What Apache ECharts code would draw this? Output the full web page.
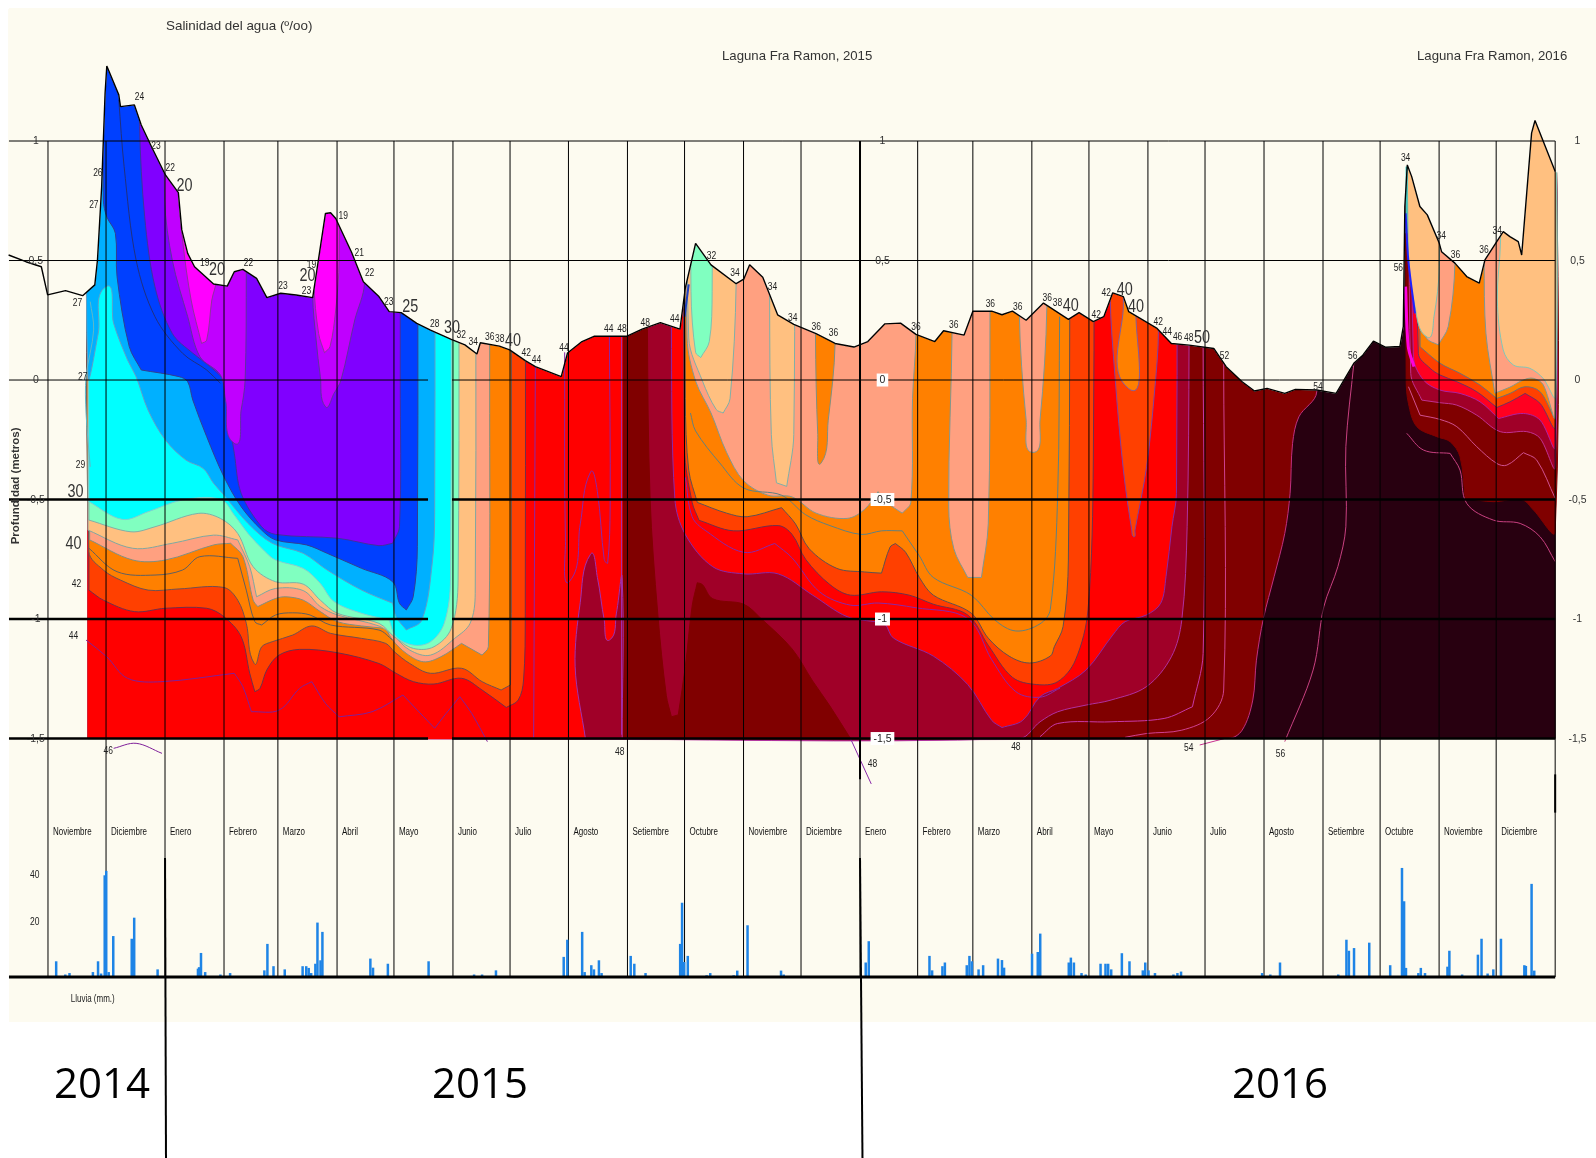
<!DOCTYPE html>
<html>
<head>
<meta charset="utf-8">
<title>Salinidad del agua</title>
<script src="https://cdn.jsdelivr.net/npm/echarts@6/dist/echarts.min.js"></script>
<style>
html,body{margin:0;padding:0;background:#fff}
#chart{width:1596px;height:1158px}
</style>
</head>
<body>
<div id="chart"></div>
<script>
// x = days since 1 Nov 2014, y = depth in metres

var months = ['Noviembre','Diciembre','Enero','Febrero','Marzo','Abril','Mayo','Junio','Julio','Agosto','Setiembre','Octubre','Noviembre','Diciembre','Enero','Febrero','Marzo','Abril','Mayo','Junio','Julio','Agosto','Setiembre','Octubre','Noviembre','Diciembre'];
var monthStarts = [0,30.5,61.5,92.5,120.8,151.9,181.8,212.8,242.8,273.5,304.5,334.5,365.5,395.7,426.7,457,486,517,547,578,608,639,670,700,731,761,792];
var depthTicks = [1,0.5,0,-0.5,-1,-1.5];
var depthTickLabels = ['1','0,5','0','-0,5','-1','-1,5'];

// water level
var surface = [[-20.7,.523],[-11.6,.495],[-3.5,.474],[-.2,.356],[9.2,.374],[18.2,.353],[24.6,.398],[26,.502],[28.2,.809],[30,1.2],[30.9,1.314],[37.2,1.193],[38.1,1.144],[45.4,1.151],[49,1.067],[54.4,.976],[61.7,.858],[68.5,.784],[70.3,.628],[73.4,.53],[77,.474],[87,.402],[94.2,.393],[97.9,.453],[102.4,.463],[109.6,.425],[115,.345],[122.3,.363],[130.4,.356],[139.1,.345],[145.8,.697],[148.5,.7],[151.2,.676],[159.4,.537],[165.7,.411],[173.9,.349],[179.3,.286],[185.6,.282],[193.8,.237],[201,.209],[211.9,.17],[219.1,.147],[225.4,.109],[227.2,.156],[237.2,.142],[242.6,.126],[250.8,.081],[256.1,.056],[269.7,.014],[273,.113],[280.6,.161],[286.9,.183],[304,.183],[312.2,.213],[321.8,.24],[332.1,.213],[334.9,.385],[340.3,.572],[348.4,.482],[361.6,.403],[365.6,.422],[368.7,.482],[375.6,.43],[383.4,.273],[391.9,.233],[403.6,.194],[413.6,.153],[423.5,.138],[430.8,.161],[439.8,.235],[448,.238],[456.1,.191],[466,.161],[470.6,.206],[481.4,.188],[486,.288],[495.9,.288],[501.3,.273],[506.8,.288],[514,.25],[523.1,.322],[536.2,.254],[541.8,.282],[549.3,.244],[554.8,.265],[559.5,.365],[565.1,.349],[567.9,.286],[582.8,.216],[590.3,.153],[599.6,.146],[612.6,.132],[619.1,.056],[627.5,-.007],[634,-.046],[640.6,-.035],[649.9,-.056],[655.5,-.039],[666.7,-.042],[676.9,-.056],[686.2,.07],[690.9,.104],[696.5,.163],[703,.137],[710.4,.14],[712.2,.224],[713,.726],[714.3,.9],[716.6,.851],[720.9,.726],[724.8,.691],[731.1,.572],[732.3,.537],[739.3,.489],[745.5,.433],[752.1,.405],[755.1,.503],[764.7,.621],[768.2,.6],[772.6,.579],[774.4,.523],[779.6,1.033],[781.4,1.086],[792,.872]];

// filled contour bands, painted in this order
var bandBase = [[21,-1.5],[792,-1.5],[792,1.5],[21,1.5]];
var bandDarkRed = [[21,-1.5],[620.1,-1.5],[627.5,-1.465],[633.1,-1.339],[635,-1.172],[638.7,-.997],[644.3,-.823],[649.9,-.642],[652.7,-.474],[654,-.265],[657.3,-.154],[666.7,-.049],[666.7,1.5],[21,1.5]];
var pocketDarkRed = [[713.7,1.5],[713.7,0],[714.9,-.098],[719.3,-.195],[729.8,-.237],[736.8,-.258],[742,-.321],[744.7,-.495],[759.5,-.509],[774.4,-.5],[780.6,-.544],[792,-.635],[792,1.5]];
var bandCrimson = [[250,-1.5],[510.4,-1.5],[521.3,-1.43],[530.6,-1.388],[545.5,-1.36],[558.6,-1.339],[577.2,-1.283],[590.3,-1.158],[595.8,-1.004],[598.6,-.614],[599.6,.153],[599.6,1.5],[250,1.5]];
var columnDarkRed = [[301.7,-1.5],[302.3,.176],[302.3,1.5],[315,1.5],[315,.221],[316.4,-.497],[320.4,-.975],[324.9,-1.319],[327.6,-1.409],[331.2,-1.401],[334.9,-1.199],[338.5,-.945],[341.2,-.848],[343.9,-.856],[349.3,-.915],[365.6,-.938],[374.7,-.998],[391,-1.125],[401.8,-1.259],[410.9,-1.364],[421.7,-1.5]];
var redLeft = [[21,-1.5],[301.7,-1.5],[301.7,1.5],[21,1.5]];
var hillCrimson = [[282.4,-1.5],[277,-1.2],[279.7,-.93],[285.1,-.729],[288.7,-.826],[292.3,-1.005],[295,-1.088],[298.7,-.975],[301.7,-.826],[301.7,-1.5]];
var redRight = [[327.6,1.5],[327.6,.221],[329.4,-.497],[334.9,-.646],[349.3,-.781],[365.6,-.811],[383.7,-.811],[401.8,-.9],[419.9,-.99],[436.2,-1.013],[439.8,-1.02],[444.3,-1.08],[465.2,-1.155],[483.3,-1.274],[495.9,-1.424],[501.3,-1.454],[512.2,-1.424],[521.3,-1.325],[530.6,-1.29],[545.5,-1.213],[559.5,-1.067],[566,-1.011],[577.2,-.983],[584.7,-.934],[587.5,-.823],[590.6,-.614],[593,-.474],[593,1.5]];
var redOrangeLeft = [[21,1.5],[21.5,-.879],[29.1,-.921],[45.4,-.969],[61.7,-.955],[83.4,-.955],[92.4,-.99],[101.5,-1.074],[106,-1.227],[108.7,-1.304],[111.4,-1.29],[115,-1.213],[121.4,-1.151],[132.2,-1.127],[152.1,-1.141],[173.9,-1.186],[182.9,-1.227],[192,-1.262],[202.8,-1.272],[217.3,-1.248],[228.1,-1.297],[240.8,-1.37],[247.1,-1.339],[249.9,-1.255],[250.8,-.976],[250.8,1.5]];
var orangeLeft = [[21,1.5],[21.5,-.718],[29.1,-.795],[38.1,-.837],[52.6,-.879],[68.9,-.874],[92.4,-.868],[99.7,-.921],[104.2,-1.018],[108.4,-1.186],[112.3,-1.116],[117.8,-1.095],[128.6,-1.067],[138.6,-1.029],[148.5,-1.06],[164.8,-1.081],[177.5,-1.102],[182,-1.137],[190.1,-1.186],[201,-1.227],[217.3,-1.206],[228.1,-1.262],[238.1,-1.297],[243,-1.276],[243.5,-.976],[243.5,1.5]];
var salmonLeft = [[21,1.5],[21.9,-.669],[44.5,-.753],[61.7,-.753],[87,-.69],[96,-.683],[102.4,-.739],[107.8,-.921],[110.2,-.948],[119.6,-.914],[125,-.907],[134.1,-.921],[143.1,-.969],[152.1,-1.011],[164.8,-1.029],[177.5,-1.039],[181.1,-1.088],[188.3,-1.144],[197.4,-1.179],[206.4,-1.158],[217.3,-1.102],[228.1,-1.151],[231.4,-1.116],[232.1,0],[232.1,1.5]];
var peachLeft = [[21,1.5],[21,-.628],[44.5,-.704],[65.3,-.683],[87,-.649],[99.7,-.669],[106,-.781],[109.6,-.907],[119.6,-.872],[134.1,-.881],[143.1,-.948],[152.1,-.983],[173.9,-1.029],[181.1,-1.067],[190.1,-1.13],[201,-1.151],[213.7,-1.081],[221.8,-1.018],[224.5,-.893],[224.5,1.5]];
var aquaLeft = [[21,1.5],[21.5,-.586],[43.6,-.635],[56.2,-.614],[78.9,-.558],[90.6,-.579],[99.7,-.642],[107.8,-.781],[119.6,-.844],[134.1,-.854],[143.1,-.921],[152.1,-.976],[173.9,-1.018],[182,-1.074],[192,-1.123],[202.8,-1.116],[211.9,-1.039],[215.5,-.837],[215.5,1.5]];
var cyanLeft = [[21,1.5],[21.5,-.509],[39,-.583],[52.6,-.551],[70.7,-.502],[90.6,-.499],[97.9,-.565],[105.1,-.642],[114.1,-.718],[119.6,-.753],[134.1,-.788],[143.1,-.851],[150.3,-.927],[164.8,-.976],[179.3,-1.004],[182.9,-1.074],[192,-1.109],[201,-1.095],[208.2,-1.018],[211.5,-.837],[211.5,1.5]];
var skyBlue = [[21,1.5],[21,.014],[26.4,.195],[30.4,.39],[34.5,.237],[41.8,.084],[46.3,.014],[52.6,-.126],[61.7,-.251],[72.5,-.335],[81.6,-.37],[87,-.432],[92.4,-.481],[105.1,-.6],[117.8,-.683],[134.1,-.725],[146.7,-.795],[164.8,-.879],[181.1,-.934],[182.9,-.99],[188.3,-1.046],[196.5,-1.004],[201.9,-.767],[203.2,-.558],[203.2,1.5]];
var blue = [[29,1.5],[29.1,.753],[30.9,.683],[35.4,.614],[36.3,.432],[42.7,.14],[49,.042],[68.9,.014],[73.4,-.007],[76.1,-.084],[83.4,-.237],[92.4,-.404],[101.5,-.53],[112.3,-.628],[119.6,-.669],[135.9,-.69],[146.7,-.725],[164.8,-.788],[181.1,-.844],[184.7,-.934],[188.3,-.962],[191.9,-.907],[194.1,-.697],[194.1,1.5]];
var violet = [[48,1.5],[48.1,1.06],[50.8,.683],[56.2,.39],[65.3,.195],[76.1,.112],[85.2,.056],[92.4,-.007],[95.1,-.167],[97.9,-.307],[101.5,-.474],[112.3,-.614],[119.6,-.646],[152.1,-.662],[173.9,-.693],[181.1,-.683],[184.7,-.614],[185.1,0],[185.1,1.5]];
var purpleJan = [[61.3,1.5],[61.3,.753],[65.3,.502],[73.4,.265],[79.8,.098],[90.6,.021],[93.3,-.084],[97.9,-.265],[101.5,-.126],[103.6,0],[104.2,.46],[104.2,1.5]];
var magentaJan = [[68.5,1.5],[68.5,.809],[70.7,.586],[75.2,.335],[80.7,.153],[83.4,.167],[86.1,.335],[88.4,.418],[88.4,1.5]];
var purpleApr = [[139.1,1.5],[139.1,.349],[140.9,.167],[143.1,.014],[145.8,-.112],[150.3,-.056],[154,0],[161.2,.251],[166.3,.405],[166.3,1.5]];
var magentaApr = [[139.8,1.5],[139.8,.405],[142.2,.195],[145.3,.114],[148.2,.14],[151.2,.293],[153,.502],[153,1.5]];

var redOrangeMid = [[334.5,1.5],[334.5,-.288],[338.5,-.512],[342.1,-.587],[360.2,-.631],[383.7,-.609],[391,-.646],[398.2,-.751],[410.9,-.856],[421.7,-.9],[438,-.886],[452.5,-.9],[465.2,-.938],[483.3,-.983],[494.1,-1.11],[506.8,-1.244],[519.4,-1.274],[530.6,-1.262],[539.9,-1.172],[546.5,-.962],[549.3,-.335],[549.6,1.5]];
var orangeMid = [[334.9,1.5],[334.9,-.078],[336.7,-.377],[341.2,-.512],[356.6,-.557],[367.4,-.572],[385.5,-.534],[392.8,-.602],[400,-.706],[414.5,-.788],[429,-.803],[438,-.808],[442.5,-.699],[445.3,-.684],[450.7,-.721],[457.9,-.826],[465.2,-.9],[485.1,-.975],[494.1,-1.08],[505,-1.155],[515.8,-1.184],[526.7,-1.155],[528.8,-1.116],[533.4,-1.032],[536.2,-.753],[537.1,1.5]];
var salmonMid = [[334.9,1.5],[335.8,.176],[340.3,-.004],[348.4,-.138],[356.6,-.303],[365.6,-.422],[378.3,-.482],[391,-.489],[403.6,-.557],[419.9,-.579],[429,-.542],[436.2,-.467],[440.7,-.512],[448.9,-.557],[453.4,-.512],[454.3,-.078],[456.1,.191],[456.1,1.5]];
var salmonFeb = [[475.1,1.5],[475.1,.213],[473.3,-.527],[476,-.706],[483.3,-.826],[490.5,-.826],[494.1,-.602],[495,.288],[495,1.5]];
var salmonApr = [[510.4,1.5],[510.4,.28],[514,-.168],[517.6,-.303],[521.3,-.168],[524.9,.31],[524.9,1.5]];
var orangeDec = [[403.3,1.5],[403.3,.191],[404.5,-.228],[406.3,-.347],[410,-.168],[413.6,.153],[413.6,1.5]];
var peachOct = [[336.7,1.5],[336.7,.176],[343.9,-.004],[351.1,-.123],[354.8,-.138],[358.4,-.078],[361.6,.403],[361.6,1.5]];
var aquaOct = [[337.9,1.5],[337.9,.37],[340.3,.116],[343,.094],[347.5,.161],[349,.37],[349,1.5]];
var peachNov = [[379.2,1.5],[379.2,.355],[380.1,-.228],[382.8,-.43],[388.2,-.445],[391.9,-.228],[391.9,1.5]];
var redOrangeMay = [[558.1,1.5],[558.1,.362],[560.7,.014],[565.1,-.377],[569.5,-.628],[570.7,-.656],[571.2,-.628],[577.3,-.363],[581.7,-.028],[583.5,.195],[583.5,1.5]];
var orangeMay = [[565.1,1.5],[565.1,.32],[567.7,-.035],[571.7,.279],[571.7,1.5]];

var pocketCrimson = [[716,1.5],[716.1,.028],[721.9,-.084],[731.5,-.095],[740.3,-.105],[750.8,-.147],[763.1,-.216],[777.1,-.216],[784.1,-.244],[792,-.363],[792,1.5]];
var pocketRed = [[717,1.5],[717.5,.097],[722.8,0],[731.5,-.042],[742,-.056],[752.5,-.091],[762.2,-.161],[775.3,-.14],[784.1,-.168],[792,-.279],[792,1.5]];
var pocketRedOrange = [[719.5,1.5],[720.1,.111],[726.3,.049],[731.5,.021],[740.3,-.007],[750.8,-.049],[761.3,-.115],[768.3,-.091],[776.2,-.056],[784.1,-.098],[792,-.195],[792,1.5]];
var pocketOrange = [[720.5,1.5],[721,.139],[731.5,.07],[742,.028],[752.5,-.021],[761.3,-.077],[768.3,-.056],[776.2,-.028],[784.1,-.049],[792,-.147],[792,1.5]];
var pocketSalmonA = [[714.8,1.5],[714.8,.614],[718.3,.307],[724.4,.175],[730.6,.147],[735.8,.224],[739.3,.489],[739.3,1.5]];
var pocketPeachA = [[714.8,1.5],[714.8,.544],[718.3,.307],[724.8,.179],[728.3,.265],[731.1,.475],[731.1,1.5]];
var pocketSalmonB = [[754.7,1.5],[754.7,.503],[755.6,.196],[760.3,-.055],[768.2,-.03],[775.2,0],[780.5,.007],[785.7,-.02],[792,-.153],[792,1.5]];
var pocketPeachB = [[763.3,1.5],[763.3,.586],[761.6,.335],[764.7,.126],[770,.063],[778.7,.049],[785.7,.007],[792,-.069],[792,1.5]];

// contour lines that do not bound a fill
var lineBlue = [[37.2,1.172],[40,.893],[46.3,.502],[56.2,.265],[70.7,.112],[83.4,.042],[90.6,-.014]];
var lineLeft = [[22.2,.328],[24,.209],[20,.014],[20,-.139],[22.2,-.363]];
var lineOrangeLeft = [[21.5,-.704],[36.3,-.802],[56.2,-.816],[70.7,-.795],[79.8,-.739],[99.7,-.746],[104.2,-.879],[108.7,-1.011],[112.3,-1.025],[119.6,-.983],[128.6,-.974],[137.7,-.983],[148.5,-1.025],[173.9,-1.046],[181.1,-1.088]];
var line44 = [[20,-1.088],[30.9,-1.158],[41.8,-1.248],[59.9,-1.262],[97.9,-1.227],[102.4,-1.283],[106.9,-1.388],[121.4,-1.381],[132.2,-1.29],[138.6,-1.262],[145.8,-1.353],[153,-1.409],[170.2,-1.388],[186.5,-1.318],[197.4,-1.409],[203.2,-1.457],[209.2,-1.395],[216.4,-1.325],[222.7,-1.395],[230.9,-1.513]];
var line46 = [[34.5,-1.541],[46.3,-1.52],[59.9,-1.562]];
var lineJul = [[256.1,.056],[255.2,-1.5]];
var lineAug = [[271.5,.116],[271.9,-.676],[274.2,-.841],[279.7,-.602],[285.1,-.385],[288.7,-.467],[292.3,-.751],[294.1,-.766],[295.4,-.527],[295,.183]];
var lineSep = [[301.4,.183],[301.4,-1.484]];
var lineOrangeMid = [[337.6,-.138],[340.3,-.213],[353,-.347],[365.6,-.452],[385.5,-.482],[398.2,-.564],[410.9,-.609],[427.2,-.646],[438,-.631],[448.9,-.631],[457.9,-.736],[465.2,-.826],[485.1,-.9],[497.7,-1.005],[508.6,-1.05],[521.3,-1.02],[526.7,-.96],[530.6,-.474],[531.6,.265]];
var lineRedMid = [[334.9,-.407],[338.5,-.572],[345.7,-.631],[365.6,-.721],[381.9,-.684],[391,-.744],[405.4,-.886],[421.7,-.942],[436.2,-.933],[456.1,-.953],[483.3,-.998],[495.9,-1.17],[508.6,-1.304],[521.3,-1.327],[531.8,-1.289]];
var line48Tail = [[421.7,-1.5],[432.6,-1.69]];
var line50 = [[607,.139],[607,-1.144],[601.4,-1.367],[586.5,-1.416],[558.6,-1.43],[530.6,-1.437],[521.3,-1.492]];
var line52 = [[617.8,.07],[617.8,-1.297],[610.8,-1.409],[595.8,-1.465],[577.2,-1.479],[566,-1.495]];
var line54Tail = [[605.2,-1.527],[618.2,-1.5]];
var line56 = [[686.2,.07],[682,-.279],[682,-.614],[677.8,-.781],[670.4,-.949],[664.8,-1.213],[649.9,-1.513]];
var linePocketOuter = [[714,-.223],[722.8,-.293],[736.8,-.307],[742,-.377],[745.5,-.516],[759.5,-.586],[773.6,-.6],[784.1,-.656],[792,-.76]];
var linePocketInner = [[714.9,-.028],[721,-.147],[731.5,-.165],[740.3,-.195],[750.8,-.279],[761.3,-.349],[766.6,-.356],[775.3,-.304],[782.3,-.335],[792,-.495]];
var streakTeal = [[713.9,.893],[713.9,.614]];
var streakBlue = [[713.4,.698],[714.8,.503],[718.3,.279]];
var streakMagenta = [[713.4,.391],[714.8,.14],[717.8,.056]];
var streakOct = [[334.5,.265],[336.7,.4]];

// contour labels: day, depth, text
var contourLabels = [[48.1,1.185,'24'],[56.7,.98,'23'],[64.2,.887,'22'],[26.2,.865,'26'],[24.1,.733,'27'],[15.5,.32,'27'],[82.4,.49,'19'],[105.3,.49,'22'],[123.5,.392,'23'],[135.8,.371,'23'],[138.5,.482,'19'],[155.1,.686,'19'],[163.6,.529,'21'],[169,.448,'22'],[179.1,.324,'23'],[203.2,.234,'28'],[217.1,.188,'32'],[223.5,.158,'34'],[232.1,.179,'36'],[237.4,.171,'38'],[251.3,.111,'42'],[256.7,.081,'44'],[271.1,.132,'44'],[294.7,.213,'44'],[301.6,.213,'48'],[313.9,.239,'48'],[329.4,.256,'44'],[348.7,.516,'32'],[361,.448,'34'],[380.7,.388,'34'],[391.4,.26,'34'],[403.7,.222,'36'],[412.8,.196,'36'],[456.1,.222,'36'],[475.9,.23,'36'],[495.2,.315,'36'],[509.6,.303,'36'],[525.1,.341,'36'],[530.5,.32,'38'],[550.8,.269,'42'],[556.1,.362,'42'],[583.4,.243,'42'],[588.2,.2,'44'],[593.6,.179,'46'],[599.5,.175,'48'],[618.2,.098,'52'],[667.4,-.03,'54'],[685.6,.098,'56'],[709.6,.469,'56'],[713.4,.929,'34'],[732.1,.601,'34'],[739.6,.524,'36'],[754.6,.541,'36'],[761.5,.622,'34'],[18.2,.013,'27'],[17.1,-.358,'29'],[15,-.853,'42'],[13.4,-1.074,'44'],[31.6,-1.552,'46'],[300.5,-1.556,'48'],[433.2,-1.607,'48'],[508.6,-1.535,'48'],[599.5,-1.539,'54'],[647.6,-1.564,'56']];
var bigLabels = [[71.7,.81,'20'],[88.8,.46,'20'],[136.4,.435,'20'],[190.4,.307,'25'],[212.3,.217,'30'],[244.4,.162,'40'],[537.4,.311,'40'],[565.8,.375,'40'],[571.7,.307,'40'],[606.4,.175,'50'],[14.4,-.469,'30'],[13.4,-.686,'40']];

// rain: day, mm
var rainDays = [4.3,9.1,11.3,23.6,26.3,27.9,29.8,30.6,31.9,34.3,44,45.3,57.6,78.8,79.4,80.4,82.6,90.6,95.7,113.7,115.3,118.5,124.4,133.8,135.7,137,138.3,140.5,141.6,143.2,144.2,169.4,170.8,178.6,200,223.9,228.1,235.4,271,272.9,280.7,282,285.5,286.9,289.5,290.9,306.2,308.1,314,332.2,333.2,334.3,336.2,346.1,348,360.3,362.2,367.6,385.2,386.6,402.4,429.7,431.3,443.9,463.2,464.6,470,471.3,482.8,484.2,485.5,489,491.4,499.2,501.3,502.4,517.1,520.1,521.4,536.4,537.5,539.1,543.1,545.3,553.1,555.7,557.1,558.7,564.3,568.3,575.3,576.6,578.3,581.7,591.4,593.5,595.4,628.4,638,642.3,647.4,655.2,678,682.3,683.6,686.3,694.3,705.3,711.5,712.6,713.6,720.1,721.4,723.6,735.4,736.4,743.1,751.4,753.3,756.5,759.5,763.5,775.8,776.6,779.6,781];
var rainMm = [6.4,1,1.6,2,6.4,1.4,41.5,43.3,2,16.7,15.6,24.2,3.1,3.4,4,9.8,2,1,1.6,2.7,13.5,4.4,3.1,4.4,4.4,3.7,1.6,5.4,22.2,6.8,18.4,7.5,3.8,5.4,6.4,1,1,2.7,8.2,15.2,18.4,2,4.8,3.1,6.8,1.6,8.6,5.4,1.6,13.5,30.3,6.1,8.6,.7,1.6,.7,2.6,21.1,2.6,1,.4,5.9,14.6,.3,8.6,2.7,4.4,5.9,4.8,8.6,6.4,3.1,4.8,7.5,6.9,3.8,9.5,10.2,17.7,5.9,7.9,5.9,1.6,1,5.4,5.4,5.4,3.1,9.7,6.4,2.7,5.9,2.7,1.6,1,1.6,2.2,.4,1.6,1,5.9,.4,1,15.2,10.7,11.8,14,4.8,44.5,30.9,3.7,1.6,3.7,1.6,4.2,10.7,1,9.1,15.6,1.4,3.1,15.6,4.8,4.5,38,2.6];
var rainTicks = [[-7,41.6,'40'],[-7,22.4,'20']];

var CREAM = '#fdfbf0';
var layers = [
    [bandBase,'#280010','#280010'],
    [bandDarkRed,'#800000','#c03080'],
    [pocketDarkRed,'#800000','#800000'],
    [bandCrimson,'#a00028','#b030a0'],
    [columnDarkRed,'#800000','#800000'],
    [redLeft,'#ff0000','#ff0000'],
    [hillCrimson,'#a00028','#a030b0'],
    [redRight,'#ff0000','#8a28a8'],
    [redOrangeLeft,'#ff4000','#70304a'],
    [orangeLeft,'#ff8000','#705050'],
    [salmonLeft,'#ffa080','#7f9080'],
    [peachLeft,'#ffc080','#80a8a0'],
    [aquaLeft,'#80ffc0','#80b0a8'],
    [cyanLeft,'#00ffff','#80d0d0'],
    [skyBlue,'#00b0ff','#60a0c8'],
    [blue,'#0040ff','#304090'],
    [violet,'#8000ff','#4030a0'],
    [purpleJan,'#c000ff','#6030a0'],
    [magentaJan,'#ff00ff','#9030a0'],
    [purpleApr,'#c000ff','#6030a0'],
    [magentaApr,'#ff00ff','#9030a0'],
    [redOrangeMid,'#ff4000','#70304a'],
    [orangeMid,'#ff8000','#605050'],
    [salmonMid,'#ffa080','#809890'],
    [salmonFeb,'#ffa080','#809890'],
    [salmonApr,'#ffa080','#809890'],
    [orangeDec,'#ff8000','#809080'],
    [peachOct,'#ffc080','#80b0a8'],
    [aquaOct,'#80ffc0','#80c0b0'],
    [peachNov,'#ffc080','#80b0a8'],
    [redOrangeMay,'#ff4000','#8040a0'],
    [orangeMay,'#ff8000','#8060a0'],
    [pocketCrimson,'#a00028','#c03090'],
    [pocketRed,'#ff0020','#b020a0'],
    [pocketRedOrange,'#ff4000','#703060'],
    [pocketOrange,'#ff8000','#707070'],
    [pocketSalmonA,'#ffa080','#809890'],
    [pocketPeachA,'#ffc080','#80c0b0'],
    [pocketSalmonB,'#ffa080','#809890'],
    [pocketPeachB,'#ffc080','#80c8b8'],
    // everything above the water is hidden again, straight edges here
    [surface.concat([[794,.87],[794,1.55],[-20.7,1.55]]),CREAM,CREAM,true]
];

var contourStyles = [
    [lineBlue,'#203080',1],[lineLeft,'#60b8c8',1],[lineOrangeLeft,'#606060',1],[line44,'#80209a',1],[line46,'#80209a',1],
    [lineJul,'#8a28a8',1],[lineAug,'#8a28a8',1],[lineSep,'#a030b0',1],[lineOrangeMid,'#608080',1],[lineRedMid,'#8a28a8',1],[line48Tail,'#8a28a8',1],
    [line50,'#c838a8',1],[line52,'#d04090',1],[line54Tail,'#c83090',1],[line56,'#c84080',1],
    [linePocketOuter,'#c84080',1],[linePocketInner,'#d05090',1],
    [streakTeal,'#40c8c0',2],[streakBlue,'#2020ff',2],[streakMagenta,'#ff00e0',3],[streakOct,'#2040c0',2]
];

// black rules: points, width
var rules = [
    [[[-20.5,1],[792,1]],1],
    [[[-20.5,.5],[792,.5]],1],
    [[[-20.5,0],[199.7,0]],1],[[[212.3,0],[792,0]],1],
    [[[-20.5,-.5],[199.7,-.5]],2.5],[[[212.3,-.5],[792,-.5]],2.5],
    [[[-20.5,-1],[199.7,-1]],2.5],[[[212.3,-1],[792,-1]],2.5],
    [[[-20.5,-1.5],[199.7,-1.5]],2.5],[[[212.3,-1.5],[792,-1.5]],2.5],
    // year separators and right edge
    [[[426.7,1],[426.7,-1.67]],2],
    [[[61.5,-2],[62,-3.255]],2],
    [[[426.7,-2],[428,-3.255]],2],
    [[[792,-1.65],[792,-1.81]],2]
];
var rainBaseline = -2.498;

function toPoints(api,pts){
    return pts.map(function(p){ return api.coord(p); });
}

// draws a read-off outline as a bezier path, keeping square corners square
function curvePath(px,closed){
    var n = px.length;
    function at(i){ return closed ? px[(i+n)%n] : px[Math.max(0,Math.min(n-1,i))]; }
    function unit(a,b){
        var dx=b[0]-a[0], dy=b[1]-a[1], l=Math.sqrt(dx*dx+dy*dy)||1;
        return [dx/l,dy/l,l];
    }
    function tangent(i,dir){
        var u = unit(at(i-1),at(i)), v = unit(at(i),at(i+1));
        if(!closed && (i===0||i===n-1)) return i===0?[v[0],v[1]]:[u[0],u[1]];
        var cos = u[0]*v[0]+u[1]*v[1];
        var turn = Math.acos(Math.max(-1,Math.min(1,cos)))*180/Math.PI;
        if(turn>50 && turn<130) return dir>0?[v[0],v[1]]:[u[0],u[1]];
        var t = unit(at(i-1),at(i+1));
        return [t[0],t[1]];
    }
    var d = 'M'+px[0][0]+' '+px[0][1];
    var last = closed ? n : n-1;
    for(var i=0;i<last;i++){
        var a=at(i), b=at(i+1), s=unit(a,b)[2]/3;
        var t1=tangent(i,1), t2=tangent(i+1,-1);
        d += 'C'+(a[0]+t1[0]*s)+' '+(a[1]+t1[1]*s)+' '+(b[0]-t2[0]*s)+' '+(b[1]-t2[1]*s)+' '+b[0]+' '+b[1];
    }
    return d+(closed?'Z':'');
}

function smallText(api,day,val,text,size,scale,extra){
    var c = api.coord([day,val]);
    var st = {text:text,x:0,y:0,fill:'#222',align:'center',verticalAlign:'middle',fontFamily:'Liberation Sans',fontSize:size};
    for(var k in extra||{}){ st[k]=extra[k]; }
    return {type:'text',x:c[0],y:c[1],scaleX:scale,silent:true,style:st};
}

function dataIdx(a){ return a.map(function(d,i){ return [i]; }); }

var chart = echarts.init(document.getElementById('chart'),null,{renderer:'canvas'});

var depthLabelItems = [];
[[-6.4,false],[438.5,true],[803.7,false]].forEach(function(col){
    depthTicks.forEach(function(v,i){
        depthLabelItems.push([col[0],v,depthTickLabels[i],col[1]&&v<=0]);
    });
});

function titleStyle(size,family,color){
    return {fontFamily:family,fontWeight:'normal',fontSize:size,color:color};
}

var option = {
    animation:false,
    backgroundColor:'#ffffff',
    title:[
        {text:'Salinidad del agua (º/oo)',left:161,top:15,textStyle:titleStyle(13.4,'Liberation Sans','#333')},
        {text:'Laguna Fra Ramon, 2015',left:717,top:45,textStyle:titleStyle(13.2,'Liberation Sans','#333')},
        {text:'Laguna Fra Ramon, 2016',left:1412,top:45,textStyle:titleStyle(13.2,'Liberation Sans','#333')},
        {text:'2014',left:49,top:1060,textStyle:titleStyle(42,'Open Sans','#000')},
        {text:'2015',left:427,top:1060,textStyle:titleStyle(42,'Open Sans','#000')},
        {text:'2016',left:1227,top:1060,textStyle:titleStyle(42,'Open Sans','#000')}
    ],
    graphic:[{type:'rect',z:-10,shape:{x:9,y:8,width:1587,height:1014},style:{fill:CREAM}}],
    grid:{left:0,right:0,top:0,bottom:0},
    xAxis:{type:'value',min:-25.22,max:813.45,show:false},
    yAxis:[
        {type:'value',min:-3.255,max:1.59,show:false},
        {type:'value',min:-73.9,max:398.8,show:false}
    ],
    series:[
        {
            type:'custom',z:2,silent:true,clip:false,
            data:dataIdx(layers),
            renderItem:function(params,api){
                var l = layers[params.dataIndex];
                var px = toPoints(api,l[0]);
                if(l[3]) return {type:'polygon',shape:{points:px},style:{fill:l[1],stroke:l[2],lineWidth:1}};
                return {type:'path',shape:{pathData:curvePath(px,true)},style:{fill:l[1],stroke:l[2],lineWidth:1}};
            }
        },
        {
            type:'custom',z:3,silent:true,
            data:dataIdx(contourStyles),
            renderItem:function(params,api){
                var l = contourStyles[params.dataIndex];
                return {type:'path',shape:{pathData:curvePath(toPoints(api,l[0]),false)},style:{fill:null,stroke:l[1],lineWidth:l[2]}};
            }
        },
        {
            name:'Nivel',type:'line',z:4,silent:true,symbol:'none',data:surface,
            lineStyle:{color:'#000',width:1.4}
        },
        {
            type:'custom',z:5,silent:true,
            data:dataIdx(monthStarts),
            renderItem:function(params,api){
                var d = monthStarts[params.dataIndex];
                return {type:'line',shape:{x1:api.coord([d,1])[0],y1:api.coord([d,1])[1],x2:api.coord([d,rainBaseline])[0],y2:api.coord([d,rainBaseline])[1]},style:{stroke:'#000',lineWidth:1}};
            }
        },
        {
            type:'custom',z:5,silent:true,
            data:dataIdx(rules),
            renderItem:function(params,api){
                var r = rules[params.dataIndex];
                return {type:'polyline',shape:{points:toPoints(api,r[0])},style:{fill:null,stroke:'#000',lineWidth:r[1]}};
            }
        },
        {
            name:'Lluvia',type:'bar',xAxisIndex:0,yAxisIndex:1,z:6,silent:true,barWidth:2.5,
            itemStyle:{color:'#1e84e6'},
            data:rainDays.map(function(d,i){ return [d,rainMm[i]]; })
        },
        {
            name:'base',type:'line',xAxisIndex:0,yAxisIndex:1,z:7,silent:true,symbol:'none',
            data:[[-20.5,0],[792,0]],lineStyle:{color:'#000',width:3}
        },
        {
            type:'custom',z:8,silent:true,
            data:dataIdx(contourLabels),
            renderItem:function(params,api){
                var l = contourLabels[params.dataIndex];
                return smallText(api,l[0],l[1],l[2],10,.85);
            }
        },
        {
            type:'custom',z:8,silent:true,
            data:dataIdx(bigLabels),
            renderItem:function(params,api){
                var l = bigLabels[params.dataIndex];
                return smallText(api,l[0],l[1],l[2],18,.8,{fill:'#333'});
            }
        },
        {
            type:'custom',z:8,silent:true,
            data:dataIdx(depthLabelItems),
            renderItem:function(params,api){
                var l = depthLabelItems[params.dataIndex];
                return smallText(api,l[0],l[1],l[2],11,.95,l[3]?{backgroundColor:'#fff',padding:[1,3]}:{fill:'#333'});
            }
        },
        {
            type:'custom',z:8,silent:true,
            data:dataIdx(months),
            renderItem:function(params,api){
                var c = api.coord([monthStarts[params.dataIndex]+2.6,-1.894]);
                return {type:'text',x:c[0],y:c[1],scaleX:.8,silent:true,style:{text:months[params.dataIndex],x:0,y:0,fill:'#111',align:'left',verticalAlign:'middle',fontFamily:'Liberation Sans',fontSize:10}};
            }
        },
        {
            type:'custom',xAxisIndex:0,yAxisIndex:1,z:8,silent:true,
            data:dataIdx(rainTicks),
            renderItem:function(params,api){
                var l = rainTicks[params.dataIndex];
                return smallText(api,l[0],l[1],l[2],10,.85);
            }
        },
        {
            type:'custom',xAxisIndex:0,yAxisIndex:1,z:8,silent:true,
            data:[[0]],
            renderItem:function(params,api){
                return smallText(api,23.5,-9.2,'Lluvia (mm.)',10,.8);
            }
        },
        {
            type:'custom',z:8,silent:true,
            data:[[0]],
            renderItem:function(params,api){
                var c = api.coord([-17.1,-.443]);
                return {type:'text',x:c[0],y:c[1],rotation:Math.PI/2,silent:true,style:{text:'Profundidad (metros)',x:0,y:0,fill:'#333',align:'center',verticalAlign:'middle',fontFamily:'Liberation Sans',fontWeight:'bold',fontSize:11.5}};
            }
        }
    ]
};
chart.setOption(option);
</script>
</body>
</html>
